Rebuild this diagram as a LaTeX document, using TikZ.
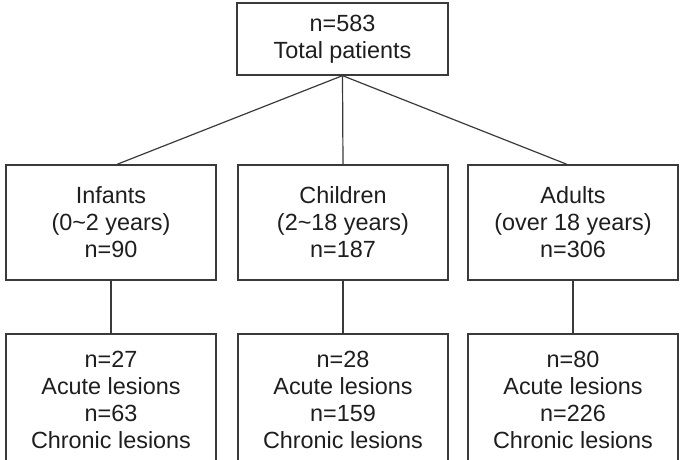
\documentclass[tikz,border=0pt]{standalone}
\usepackage{fontspec}
\setmainfont{Liberation Sans}
\definecolor{linegray}{HTML}{3A3A3A}
\definecolor{textgray}{HTML}{1E1E1E}
\begin{document}
\begin{tikzpicture}[x=1pt,y=-1pt,
  box/.style={draw=linegray, line width=1.3pt, minimum width=210pt, inner sep=0pt,
    align=center, text=textgray, font=\fontsize{23.4}{27}\selectfont},
  conn/.style={draw=linegray, line width=1.2pt}]
\useasboundingbox (0,0) rectangle (681,460);
\clip (0,0) rectangle (681,460);
\node[box, minimum width=211pt, minimum height=72pt] (top) at (342.5,39) {n=583\\Total patients};
\node[box, minimum height=115pt] (inf) at (111,222.5) {Infants\\(0\textasciitilde 2 years)\\n=90};
\node[box, minimum height=115pt] (chi) at (343,222.5) {Children\\(2\textasciitilde 18 years)\\n=187};
\node[box, minimum height=115pt] (adu) at (573,222.5) {Adults\\(over 18 years)\\n=306};
\node[box, minimum height=132pt] (binf) at (111,400) {n=27\\Acute lesions\\n=63\\Chronic lesions};
\node[box, minimum height=132pt] (bchi) at (343,400) {n=28\\Acute lesions\\n=159\\Chronic lesions};
\node[box, minimum height=132pt] (badu) at (573,400) {n=80\\Acute lesions\\n=226\\Chronic lesions};
\draw[conn] (top.south) -- ([xshift=6pt]inf.north);
\draw[conn] (top.south) -- (chi.north);
\draw[conn] (top.south) -- ([xshift=-6pt]adu.north);
\draw[conn] (inf.south) -- (binf.north);
\draw[conn] (chi.south) -- (bchi.north);
\draw[conn] (adu.south) -- (badu.north);
\end{tikzpicture}
\end{document}
